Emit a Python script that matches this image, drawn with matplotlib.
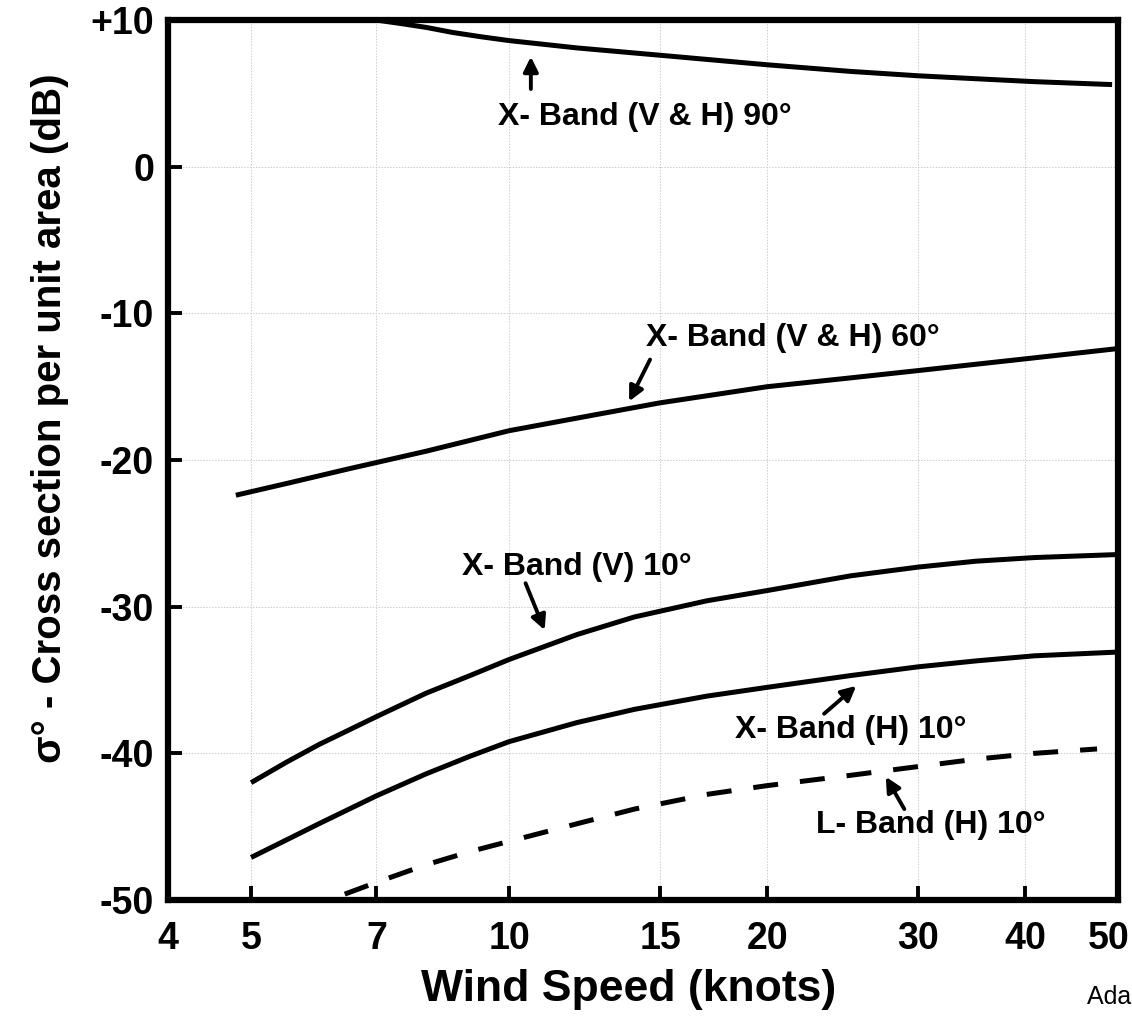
import matplotlib
matplotlib.use("Agg")
import matplotlib.pyplot as plt

plt.rcParams['font.family'] = ['Liberation Sans', 'DejaVu Sans']

# wind speed (knots) / sigma0 (dB)
x_90 = [4, 7, 7.5, 8, 8.6, 9.3, 10, 12, 15, 20, 25, 30, 35, 41, 50.5]
y_90 = [10, 10, 9.75, 9.5, 9.15, 8.85, 8.6, 8.1, 7.6, 6.95, 6.5, 6.2, 6.0, 5.8, 5.6]

x_60 = [4.8, 5.5, 6.5, 8, 10, 12.5, 15, 20, 25, 30, 40, 51.3]
y_60 = [-22.4, -21.6, -20.6, -19.4, -18.0, -16.95, -16.1, -15.0, -14.4, -13.9, -13.1, -12.4]

x_v10 = [5, 5.5, 6, 7, 8, 9, 10, 12, 14, 17, 20, 25, 30, 35, 41, 51]
y_v10 = [-42.0, -40.6, -39.4, -37.5, -35.9, -34.7, -33.6, -31.9, -30.7, -29.6, -28.9,
         -27.9, -27.3, -26.9, -26.65, -26.45]

x_h10 = [5, 5.5, 6, 7, 8, 9, 10, 12, 14, 17, 20, 25, 30, 35, 41, 51]
y_h10 = [-47.1, -45.9, -44.8, -42.9, -41.4, -40.2, -39.2, -37.9, -37.0, -36.1, -35.5,
         -34.7, -34.1, -33.7, -33.35, -33.1]

x_l10 = [6.43, 7, 8, 9, 10, 12, 14, 17, 20, 25, 30, 35, 41, 48.5]
y_l10 = [-49.6, -48.8, -47.6, -46.7, -46.0, -44.8, -43.8, -42.8, -42.2, -41.5, -40.9,
         -40.4, -40.0, -39.7]

xticks = [4, 5, 7, 10, 15, 20, 30, 40, 50]
yticks = [10, 0, -10, -20, -30, -40, -50]
ytick_labels = ['+10', '0', '-10', '-20', '-30', '-40', '-50']

# label text, text position, arrow tail, arrow head
notes = [
    ('X- Band (V & H) 90°', (14.4, 3.4), (10.6, 5.3), (10.6, 7.5)),
    ('X- Band (V & H) 60°', (21.4, -11.7), (14.6, -13.15), (13.8, -16.0)),
    ('X- Band (V) 10°', (12.0, -27.3), (10.45, -28.4), (11.0, -31.6)),
    ('X- Band (H) 10°', (25.0, -38.4), (23.3, -37.3), (25.4, -35.4)),
    ('L- Band (H) 10°', (31.0, -44.9), (28.9, -43.8), (27.5, -41.6)),
]

fig = plt.figure(figsize=(11.32, 10.34), dpi=100)
ax = fig.add_axes([0.1484, 0.1296, 0.8392, 0.851])

lw = 3.6
ax.plot(x_90, y_90, color='black', lw=lw, solid_capstyle='butt')
ax.plot(x_60, y_60, color='black', lw=lw, solid_capstyle='butt')
ax.plot(x_v10, y_v10, color='black', lw=lw, solid_capstyle='butt')
ax.plot(x_h10, y_h10, color='black', lw=lw, solid_capstyle='butt')
ax.plot(x_l10, y_l10, color='black', lw=lw, dashes=(5, 4.4), dash_capstyle='butt')

ax.set_xscale('log')
ax.set_xlim(4, 51.3)
ax.set_ylim(-50, 10)

ax.set_xticks(xticks)
ax.set_xticklabels([str(v) for v in xticks])
ax.xaxis.set_minor_locator(matplotlib.ticker.NullLocator())
ax.set_yticks(yticks)
ax.set_yticklabels(ytick_labels)

ax.tick_params(axis='both', direction='in', length=10, width=2.8, labelsize=27)
ax.tick_params(axis='x', pad=15)
ax.tick_params(axis='y', pad=10)
for lab in ax.get_xticklabels() + ax.get_yticklabels():
    lab.set_fontweight('bold')

ax.grid(True, color='#cdcdcd', lw=0.7, ls=(0, (1.5, 1.5)))
for t in (ax.xaxis.get_major_ticks()[0], ax.xaxis.get_major_ticks()[-1]):
    t.tick1line.set_visible(False)
    t.gridline.set_visible(False)

for s in ax.spines.values():
    s.set_linewidth(4.5)

for text, txy, tail, head in notes:
    ax.text(txy[0], txy[1], text, fontsize=23, fontweight='bold',
            ha='center', va='center')
    ax.annotate('', xy=head, xytext=tail,
                arrowprops=dict(arrowstyle='-|>', color='black', lw=2.8,
                                mutation_scale=22, shrinkA=0, shrinkB=0))

fig.text(0.044, 0.596, 'σ° - Cross section per unit area (dB)', rotation=90,
         fontsize=29, fontweight='bold', ha='center', va='center')
fig.text(0.555, 0.043, 'Wind Speed (knots)', fontsize=32, fontweight='bold',
         ha='center', va='center')
fig.text(0.960, 0.029, 'Adapted from', fontsize=18, ha='left', va='baseline')

fig.savefig('out.png', dpi=100)
